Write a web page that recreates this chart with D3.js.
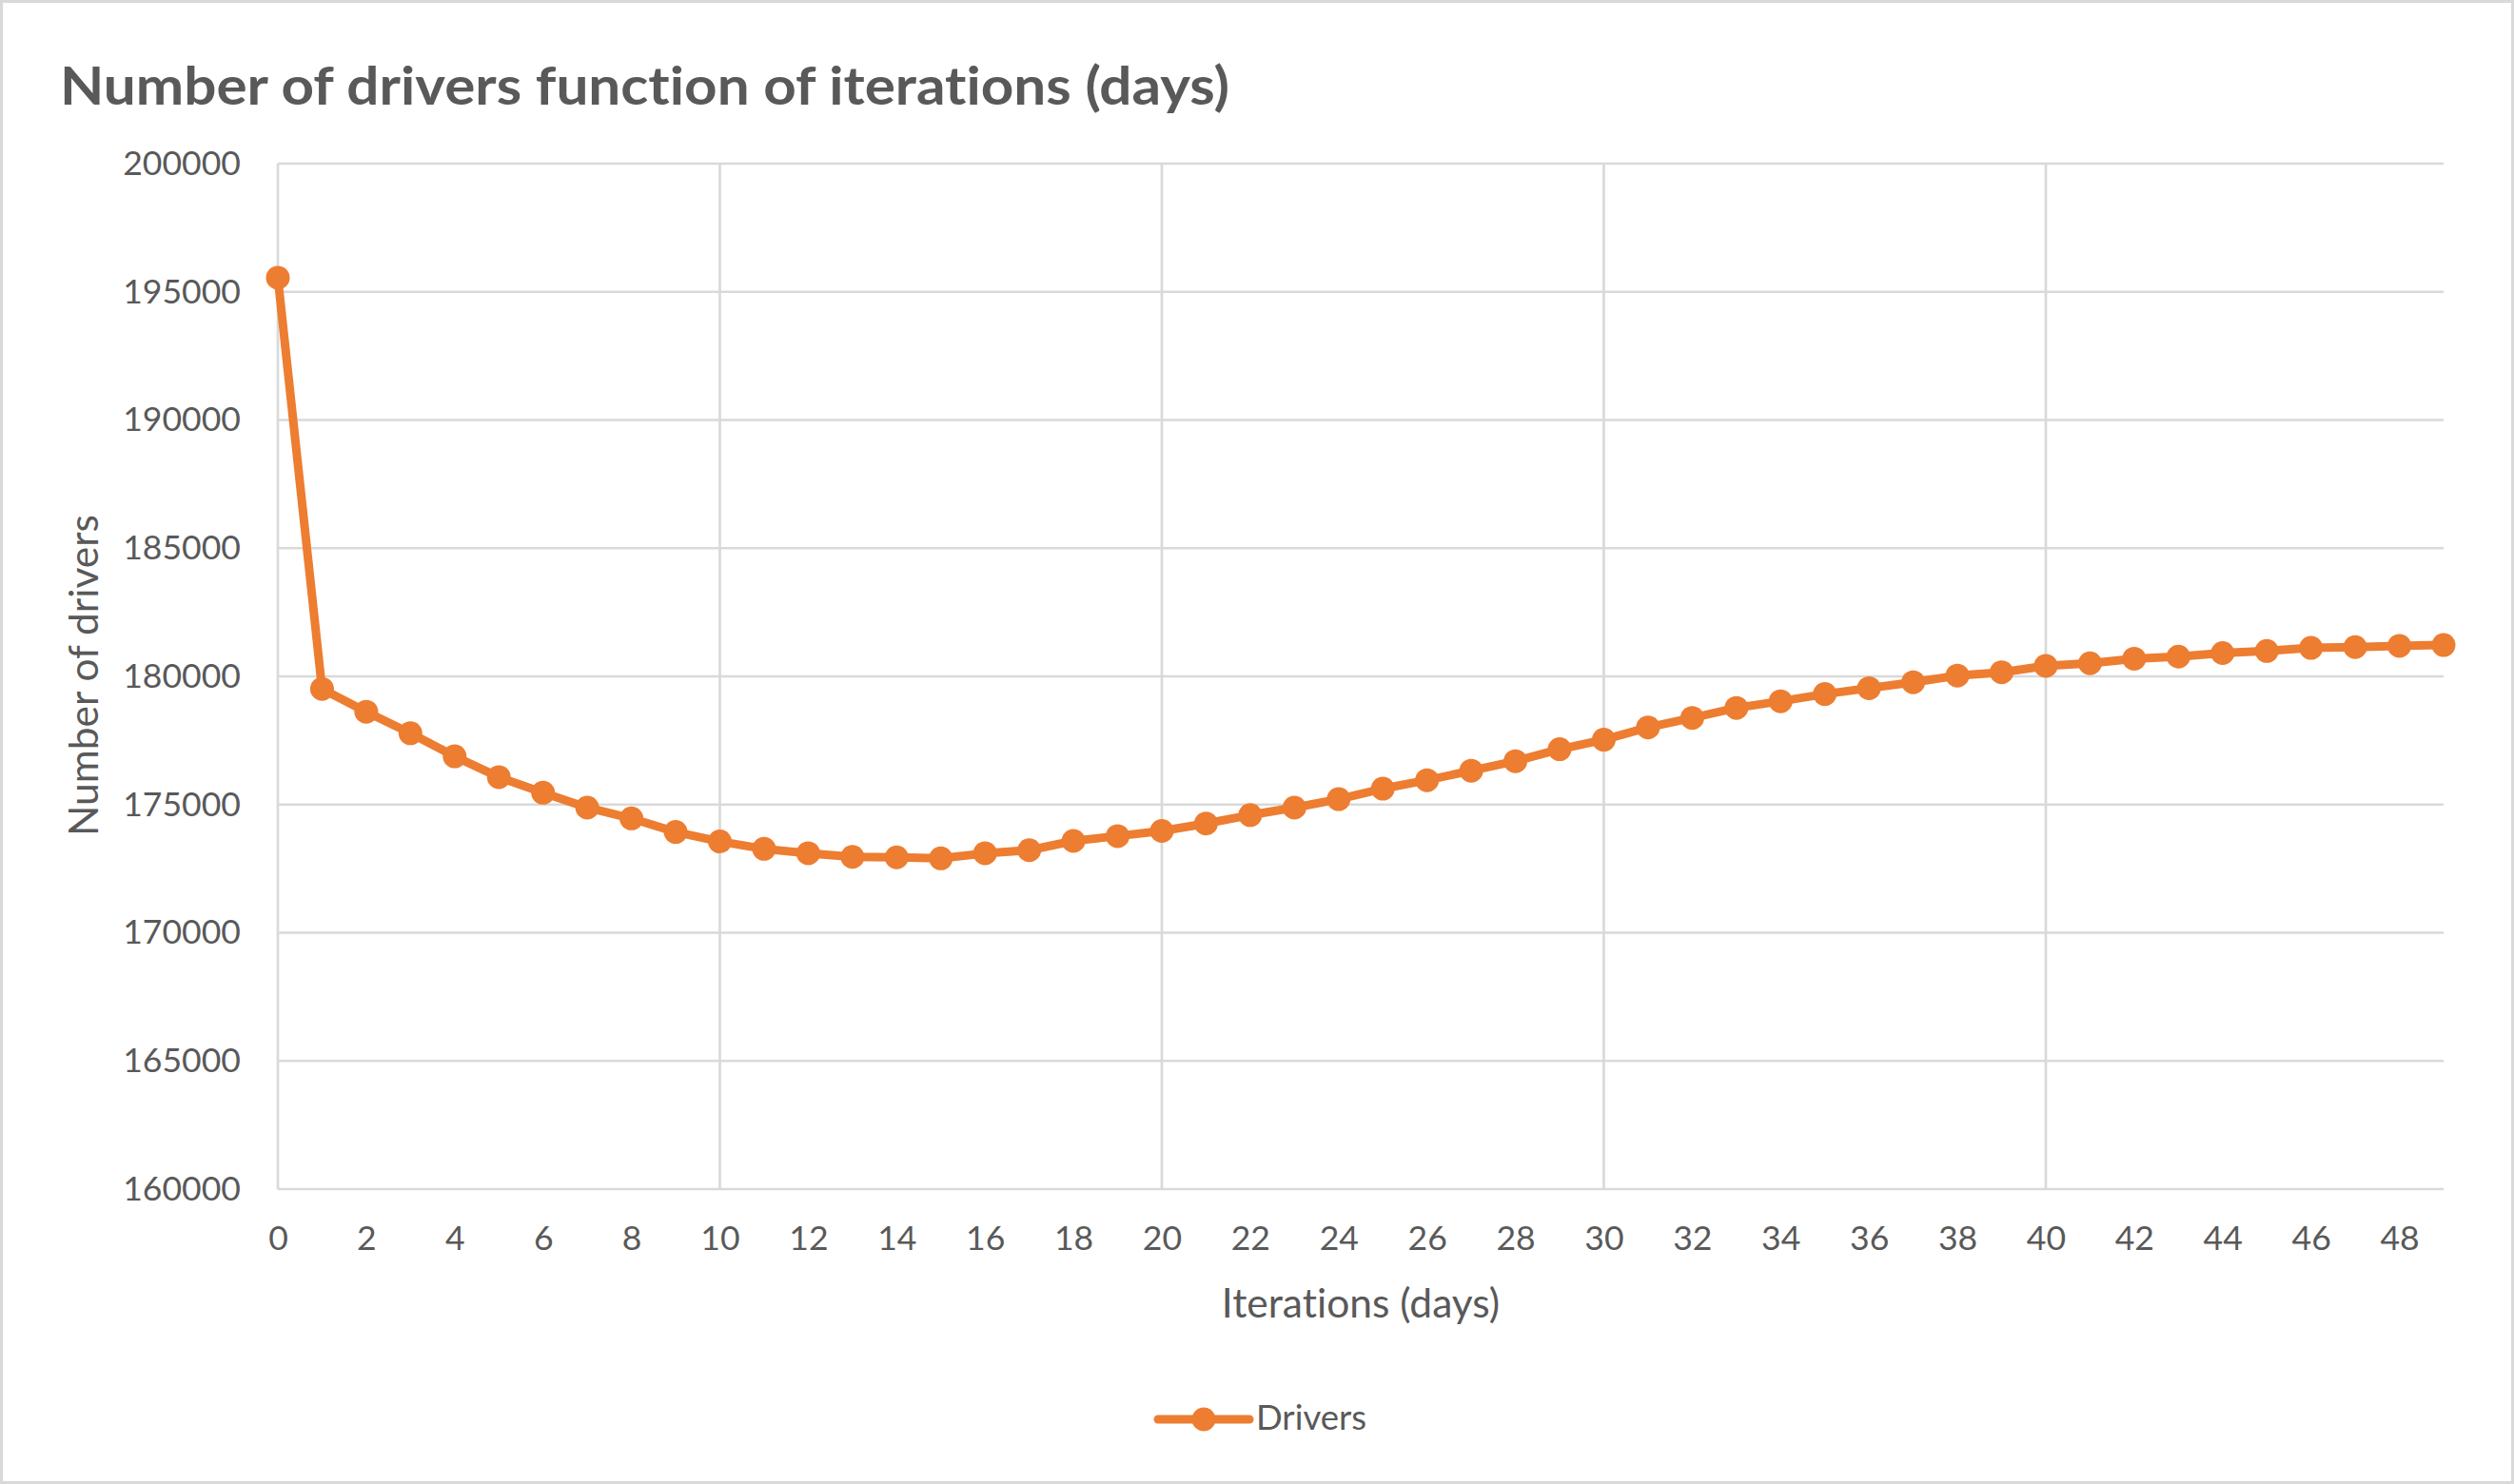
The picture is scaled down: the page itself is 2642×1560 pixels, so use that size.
<!DOCTYPE html>
<html>
<head>
<meta charset="utf-8">
<script src="https://cdn.jsdelivr.net/npm/d3@7"></script>
<style>
  html, body { margin: 0; padding: 0; background: #fff; }
  svg { display: block; }
  text { font-variant-ligatures: none; }
</style>
</head>
<body>
<div id="wrapper"></div>
<script>
// iterations (days) 0..49
const days = d3.range(0, 50);
// number of drivers
const drivers = [
  195550, 179510, 178620, 177780, 176880, 176070, 175460, 174880, 174460, 173930,
  173560, 173270, 173100, 172960, 172940, 172900, 173100, 173220, 173580, 173770,
  173970, 174260, 174590, 174880, 175210, 175620, 175950, 176320, 176690, 177160,
  177530, 178010, 178380, 178770, 179030, 179310, 179540, 179770, 180030, 180160,
  180410, 180510, 180690, 180770, 180910, 180990, 181110, 181140, 181190, 181220
];
const yTicks = [160000, 165000, 170000, 175000, 180000, 185000, 190000, 195000, 200000];
const xTicks = d3.range(0, 49, 2);
const xGrid = [0, 10, 20, 30, 40];
const seriesName = "Drivers";
const titleText = "Number of drivers function of iterations (days)";
const xTitle = "Iterations (days)";
const yTitle = "Number of drivers";

const dataset = days.map((d, i) => ({ day: d, value: drivers[i] }));

// Define dimensions
const dimensions = {
    width: 2642,
    height: 1560,
    margins: { top: 172, right: 74, bottom: 310, left: 292 }
};
dimensions.boundedWidth = dimensions.width - dimensions.margins.left - dimensions.margins.right;
dimensions.boundedHeight = dimensions.height - dimensions.margins.top - dimensions.margins.bottom;

const textColor = "#595959";
const gridColor = "#d9d9d9";
const orange = "#ED7D31";
const font = "Lato, 'Open Sans', sans-serif";

const svg = d3.select("#wrapper")
    .append("svg")
    .attr("width", dimensions.width)
    .attr("height", dimensions.height);

// chart border
svg.append("rect")
    .attr("x", 1.5).attr("y", 1.5)
    .attr("width", dimensions.width - 3)
    .attr("height", dimensions.height - 3)
    .attr("fill", "#fff")
    .attr("stroke", gridColor)
    .attr("stroke-width", 3);

const bounds = svg.append("g")
    .attr("transform", `translate(${dimensions.margins.left},${dimensions.margins.top})`);

// scales
const xScale = d3.scaleLinear()
    .domain([0, 49])
    .range([0, dimensions.boundedWidth]);
const yScale = d3.scaleLinear()
    .domain([160000, 200000])
    .range([dimensions.boundedHeight, 0]);

// horizontal gridlines
bounds.append("g")
    .selectAll("line")
    .data(yTicks)
    .join("line")
    .attr("x1", 0)
    .attr("x2", dimensions.boundedWidth)
    .attr("y1", d => yScale(d))
    .attr("y2", d => yScale(d))
    .attr("stroke", gridColor)
    .attr("stroke-width", 2.7);

// vertical gridlines
bounds.append("g")
    .selectAll("line")
    .data(xGrid)
    .join("line")
    .attr("x1", d => xScale(d))
    .attr("x2", d => xScale(d))
    .attr("y1", 0)
    .attr("y2", dimensions.boundedHeight)
    .attr("stroke", gridColor)
    .attr("stroke-width", 2.7);

// y axis labels
const yAxisGenerator = d3.axisLeft(yScale)
    .tickValues(yTicks)
    .tickSize(0)
    .tickPadding(39)
    .tickFormat(d3.format("d"));
const yAxis = bounds.append("g").call(yAxisGenerator);
yAxis.select(".domain").remove();
yAxis.selectAll("text")
    .attr("fill", textColor)
    .style("font-family", font)
    .style("font-size", "35.6px");

// x axis labels
const xAxisGenerator = d3.axisBottom(xScale)
    .tickValues(xTicks)
    .tickSize(0)
    .tickPadding(39)
    .tickFormat(d3.format("d"));
const xAxis = bounds.append("g")
    .attr("transform", `translate(0,${dimensions.boundedHeight})`)
    .call(xAxisGenerator);
xAxis.select(".domain").remove();
xAxis.selectAll("text")
    .attr("fill", textColor)
    .style("font-family", font)
    .style("font-size", "35.6px");

// line
const lineGenerator = d3.line()
    .x(d => xScale(d.day))
    .y(d => yScale(d.value));

bounds.append("path")
    .attr("d", lineGenerator(dataset))
    .attr("fill", "none")
    .attr("stroke", orange)
    .attr("stroke-width", 9)
    .attr("stroke-linejoin", "round")
    .attr("stroke-linecap", "round");

// markers
bounds.append("g")
    .selectAll("circle")
    .data(dataset)
    .join("circle")
    .attr("cx", d => xScale(d.day))
    .attr("cy", d => yScale(d.value))
    .attr("r", 12.5)
    .attr("fill", orange);

// title (Calibri bold is wider than Lato, so stretch to the reference width)
svg.append("text")
    .attr("x", 63)
    .attr("y", 110)
    .attr("textLength", 1229)
    .attr("lengthAdjust", "spacingAndGlyphs")
    .text(titleText)
    .attr("fill", textColor)
    .style("font-family", font)
    .style("font-weight", "bold")
    .style("font-size", "55px");

// x axis title
svg.append("text")
    .attr("x", dimensions.margins.left + dimensions.boundedWidth / 2)
    .attr("y", 1385)
    .attr("text-anchor", "middle")
    .text(xTitle)
    .attr("fill", textColor)
    .style("font-family", font)
    .style("font-size", "42.5px");

// y axis title
svg.append("text")
    .attr("transform", `translate(103,${dimensions.margins.top + dimensions.boundedHeight / 2 - 1}) rotate(-90)`)
    .attr("text-anchor", "middle")
    .text(yTitle)
    .attr("fill", textColor)
    .style("font-family", font)
    .style("font-size", "42.5px");

// legend
const legend = svg.append("g").attr("transform", "translate(1217,1492)");
legend.append("line")
    .attr("x1", 0).attr("x2", 96)
    .attr("y1", 0).attr("y2", 0)
    .attr("stroke", orange)
    .attr("stroke-width", 9)
    .attr("stroke-linecap", "round");
legend.append("circle")
    .attr("cx", 48).attr("cy", 0)
    .attr("r", 12.5)
    .attr("fill", orange);
legend.append("text")
    .attr("x", 103)
    .attr("y", 11)
    .text(seriesName)
    .attr("fill", textColor)
    .style("font-family", font)
    .style("font-size", "36.5px");
</script>
</body>
</html>
